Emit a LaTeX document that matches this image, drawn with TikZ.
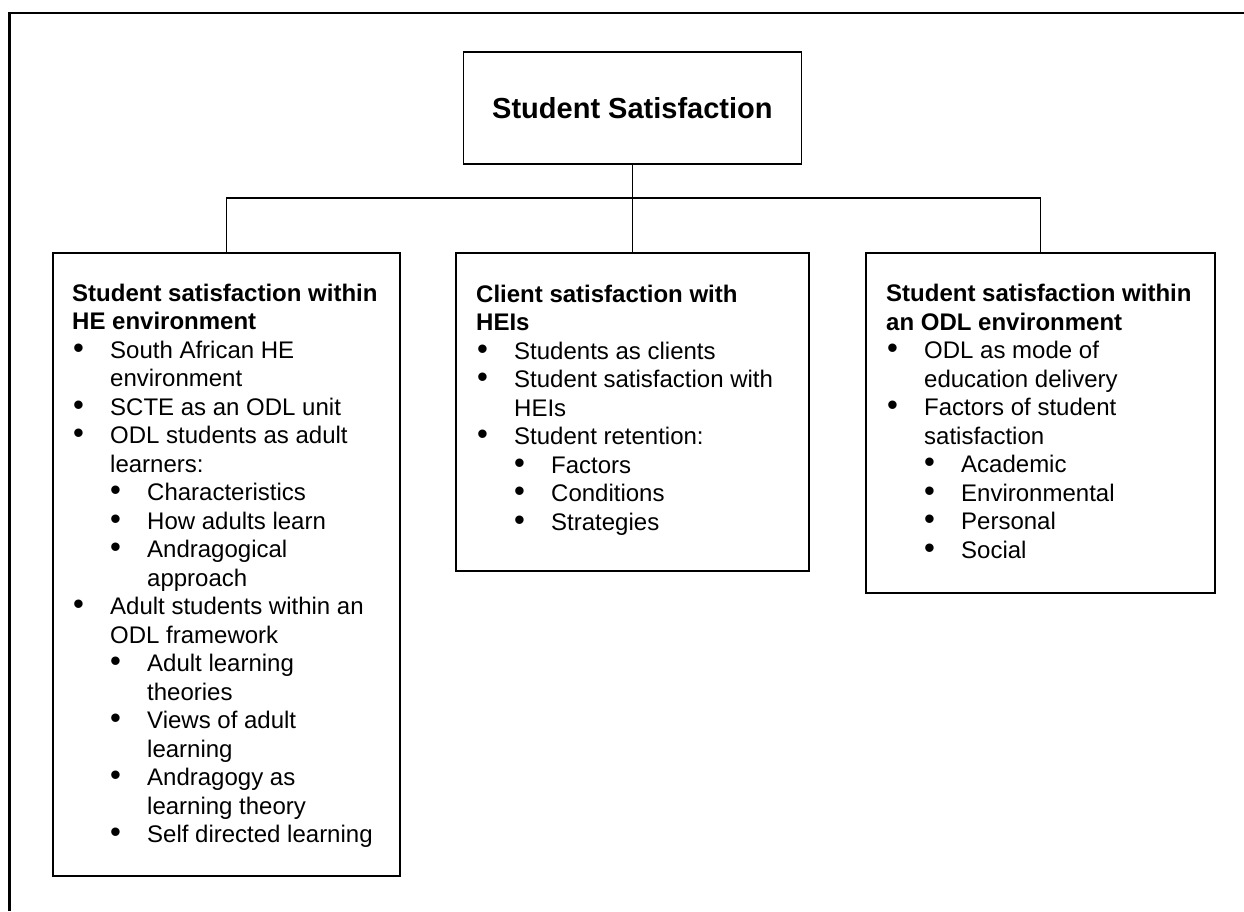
\documentclass[tikz,border=0pt]{standalone}
\usepackage{fontspec}
\setmainfont{Liberation Sans}
% list helpers: first-level and second-level bullets, and their continuation lines
\newcommand{\bigbul}{{\fontsize{31}{0}\selectfont\textbullet}}
\newcommand{\itemA}[1]{\hspace*{1pt}\makebox[37pt][l]{\bigbul}#1}
\newcommand{\contA}[1]{\hspace*{38pt}#1}
\newcommand{\itemB}[1]{\hspace*{38pt}\makebox[37pt][l]{\bigbul}#1}
\newcommand{\contB}[1]{\hspace*{75pt}#1}
\begin{document}
\begin{tikzpicture}[x=1pt,y=-1pt,
  boxshape/.style={draw=black, line width=1.8pt, rectangle, inner sep=0pt, anchor=north west},
  link/.style={draw=black, line width=1.6pt},
  % anchored at the baseline of the last line of each list
  listtext/.style={anchor=base west, align=left, inner sep=0pt, font=\fontsize{24}{28.5}\selectfont}]
\useasboundingbox (0,0) rectangle (1244,911);

% page frame
\draw[line width=2.2pt] (9.5,911) -- (9.5,13) -- (1244,13);

% boxes
\node[boxshape, minimum width=338pt, minimum height=112pt,
      font=\bfseries\fontsize{29}{34}\selectfont] (top) at (462.5,51) {Student Satisfaction};
\node[boxshape, minimum width=347pt, minimum height=623pt] (lbox) at (52,252) {};
\node[boxshape, minimum width=353pt, minimum height=318pt] (mbox) at (455,252) {};
\node[boxshape, minimum width=349pt, minimum height=340pt] (rbox) at (865,252) {};

% connectors
\coordinate (fork) at (631.5,198);
\draw[link] (top.south) -- (mbox.north);
\draw[link] (lbox.north) |- (fork) -| (rbox.north);

% box contents
\node[listtext] (ltext) at (72,842.5) {%
\textbf{Student satisfaction within}\\
\textbf{HE environment}\\
\itemA{South African HE}\\
\contA{environment}\\
\itemA{SCTE as an ODL unit}\\
\itemA{ODL students as adult}\\
\contA{learners:}\\
\itemB{Characteristics}\\
\itemB{How adults learn}\\
\itemB{Andragogical}\\
\contB{approach}\\
\itemA{Adult students within an}\\
\contA{ODL framework}\\
\itemB{Adult learning}\\
\contB{theories}\\
\itemB{Views of adult}\\
\contB{learning}\\
\itemB{Andragogy as}\\
\contB{learning theory}\\
\itemB{Self directed learning}};

\node[listtext] (mtext) at (476,530) {%
\textbf{Client satisfaction with}\\
\textbf{HEIs}\\
\itemA{Students as clients}\\
\itemA{Student satisfaction with}\\
\contA{HEIs}\\
\itemA{Student retention:}\\
\itemB{Factors}\\
\itemB{Conditions}\\
\itemB{Strategies}};

\node[listtext] (rtext) at (886,558) {%
\textbf{Student satisfaction within}\\
\textbf{an ODL environment}\\
\itemA{ODL as mode of}\\
\contA{education delivery}\\
\itemA{Factors of student}\\
\contA{satisfaction}\\
\itemB{Academic}\\
\itemB{Environmental}\\
\itemB{Personal}\\
\itemB{Social}};
\end{tikzpicture}
\end{document}
